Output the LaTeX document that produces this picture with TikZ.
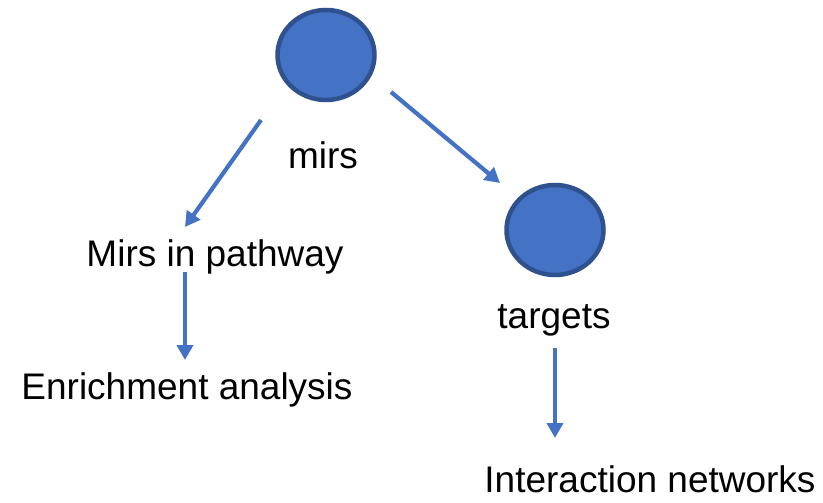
\documentclass[tikz,border=0pt]{standalone}
\usepackage{fontspec}
\setmainfont{Liberation Sans}
\usetikzlibrary{shapes.geometric,arrows.meta}
\definecolor{nodeblue}{HTML}{4472C4}
\definecolor{rimblue}{HTML}{2F528F}
\tikzset{
  blob/.style={ellipse, draw=rimblue, fill=nodeblue, line width=4.5pt,
    minimum width=97pt, minimum height=90pt, inner sep=0pt},
  label/.style={inner sep=0pt, anchor=base, font=\fontsize{37}{44}\selectfont},
  flow/.style={draw=nodeblue, line width=4.2pt,
    -{Triangle[length=15pt,width=16pt]}}
}
\begin{document}
\begin{tikzpicture}[x=1pt,y=-1pt]
  \useasboundingbox (0,0) rectangle (823,503);

  % nodes
  \node[blob] (mirnode) at (326,55) {};
  \node[blob] (tgtnode) at (555,230) {};
  \node[label] (mirs) at (323,168) {mirs};
  \node[label] (path) at (215,266) {Mirs in pathway};
  \node[label] (enrich) at (187,399) {Enrichment analysis};
  \node[label] (tgts) at (554,328) {targets};
  \node[label] (inter) at (650,492) {Interaction networks};

  % connector end points
  \coordinate (a1) at (261,120);
  \coordinate (a2) at (185,227);
  \coordinate (b1) at (391,92);
  \coordinate (b2) at (500,183);
  \coordinate (c1) at (185,272);
  \coordinate (c2) at (185,360);
  \coordinate (d1) at (555,348);
  \coordinate (d2) at (555,438);

  % connectors
  \draw[flow] (a1) -- (a2);
  \draw[flow] (b1) -- (b2);
  \draw[flow] (c1) -- (c2);
  \draw[flow] (d1) -- (d2);
\end{tikzpicture}
\end{document}
